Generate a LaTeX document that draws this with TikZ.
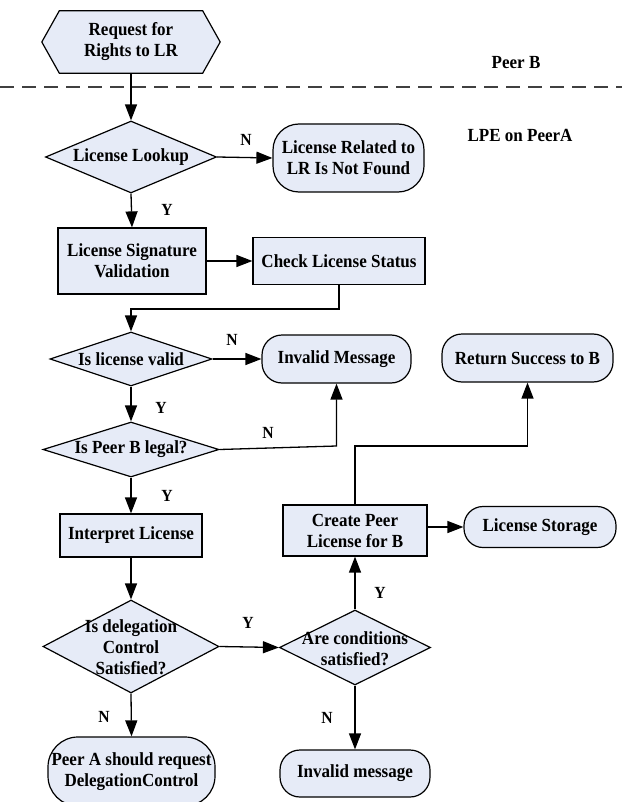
\documentclass[tikz,border=0pt]{standalone}
\usepackage{fontspec}
\setmainfont[FakeStretch=0.92]{Liberation Serif}
\usetikzlibrary{arrows.meta,shapes.geometric}
\definecolor{boxfill}{RGB}{230,235,247}
\tikzset{
  txt/.style={font=\bfseries\fontsize{18.5}{21}\selectfont, align=center, inner sep=0pt},
  lbl/.style={font=\bfseries\fontsize{17}{19}\selectfont, inner sep=0pt},
  box/.style={txt, draw=black, fill=boxfill, line width=1.2pt},
  rbox/.style={box, rounded corners=#1},
  rbox/.default=20pt,
  diam/.style={shape=diamond, draw=black, fill=boxfill, line width=1.2pt, inner sep=0pt},
  arr/.style={line width=1.3pt, -{Triangle[length=16pt,width=12pt]}},
  con/.style={line width=1.3pt}
}
\begin{document}
\begin{tikzpicture}[x=1pt,y=-1pt]
\useasboundingbox (0,0) rectangle (622,802);
\fill[white] (0,0) rectangle (622,802);

% hexagon start
\node[minimum width=177pt, minimum height=62pt, inner sep=0pt] (req) at (131,42) {};
\draw[line width=1.2pt, fill=boxfill] ([xshift=-0.5pt]req.west) -- ([xshift=17pt]req.north west) -- ([xshift=-17pt]req.north east) -- ([xshift=0.5pt]req.east) -- ([xshift=-17pt]req.south east) -- ([xshift=17pt]req.south west) -- cycle;
\node[txt] (reqt) at (req) {Request for\\Rights to LR};

\node[txt] (peerb) at (516,63) {Peer B};
\coordinate (dl) at (0,87);
\coordinate (dr) at (622,87);
\draw[line width=1.6pt, dash pattern=on 14pt off 8pt, draw=black!75] (dl) -- (dr);
\node[txt] (lpe) at (520,135) {LPE on PeerA};

% nodes
\node[diam, minimum width=171pt, minimum height=72pt] (d1) at (131,157) {};
\node[txt] (d1t) at (d1) {License Lookup};
\node[rbox=26pt, minimum width=151pt, minimum height=68pt] (nf) at (348.5,158) {License Related to\\LR Is Not Found};

\node[box, minimum width=148pt, minimum height=66pt] (lsv) at (132,261) {License Signature\\Validation};
\node[box, minimum width=172pt, minimum height=47pt] (cls) at (339,261) {Check License Status};

\node[diam, minimum width=162pt, minimum height=54pt] (d2) at (131,359) {};
\node[txt] (d2t) at (d2) {Is license valid};
\node[rbox, minimum width=149pt, minimum height=48pt] (inv1) at (336.5,359) {Invalid Message};
\node[rbox, minimum width=171pt, minimum height=48pt] (rs) at (527.5,358) {Return Success to B};

\node[diam, minimum width=176pt, minimum height=55pt] (d3) at (131,449.5) {};
\node[txt] (d3t) at (d3) {Is Peer B legal?};

\node[box, minimum width=142pt, minimum height=43pt] (il) at (131,535.5) {Interpret License};
\node[box, minimum width=144pt, minimum height=51pt] (cp) at (355,530.5) {Create Peer\\License for B};
\node[rbox=19pt, minimum width=152pt, minimum height=41pt] (ls) at (540,527) {License Storage};

\node[diam, minimum width=176pt, minimum height=93pt] (d4) at (131,646.5) {};
\node[txt] (d4t) at (131,647.5) {Is delegation\\Control\\Satisfied?};
\node[diam, minimum width=151pt, minimum height=75pt] (d5) at (355,647.5) {};
\node[txt] (d5t) at (355,648.5) {Are conditions\\satisfied?};

\node[rbox=30pt, minimum width=167pt, minimum height=69pt] (pa) at (131.5,771.5) {Peer A should request\\DelegationControl};
\node[rbox, minimum width=150pt, minimum height=47pt] (inv2) at (355,773.5) {Invalid message};

% connectors
\draw[arr] (req.south) -- (d1.north);
\draw[arr] (d1.east) -- (nf.west);
\node[lbl] (n1) at (246,140) {N};
\draw[arr] (d1.south) -- (lsv.north);
\node[lbl] (y1) at (167,210) {Y};
\draw[arr] (lsv.east) -- (cls.west);
\draw[arr] (cls.south) -- ++(0,24) -| (d2.north);
\draw[arr] (d2.east) -- (inv1.west);
\node[lbl] (n2) at (232,340) {N};
\draw[arr] (d2.south) -- (d3.north);
\node[lbl] (y2) at (161,408) {Y};
\coordinate (jn) at (0,446);
\draw[arr] (d3.east) -- (inv1.south |- jn) -- (inv1.south);
\node[lbl] (n3) at (268,433) {N};
\draw[arr] (d3.south) -- (il.north);
\node[lbl] (y3) at (167,496) {Y};
\draw[arr] (il.south) -- (d4.north);
\draw[arr] (d4.east) -- (d5.west);
\node[lbl] (y4) at (248,623) {Y};
\draw[arr] (d5.north) -- (cp.south);
\node[lbl] (y5) at (380,593) {Y};
\draw[arr] (cp.north) -- (cp.north |- jn) -| (rs.south);
\draw[arr] (cp.east |- ls.west) -- (ls.west);
\draw[arr] (d4.south) -- (pa.north);
\node[lbl] (n4) at (104,717) {N};
\draw[arr] (d5.south) -- (inv2.north);
\node[lbl] (n5) at (327,718) {N};
\end{tikzpicture}
\end{document}
